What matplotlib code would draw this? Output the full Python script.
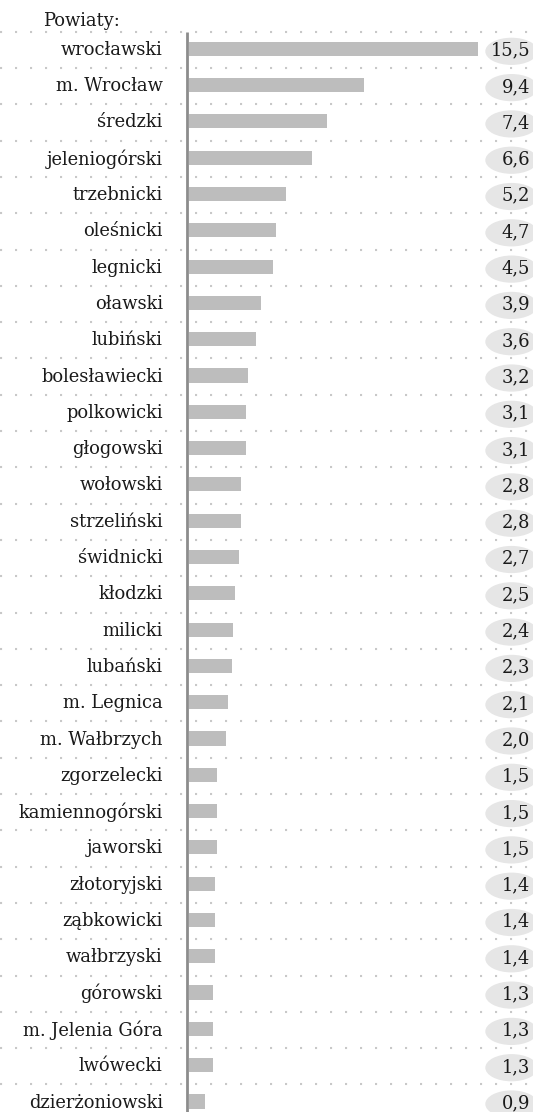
import matplotlib.pyplot as plt
from matplotlib.patches import Ellipse

plt.rcParams['font.family'] = ['DejaVu Serif']

# dane
powiaty = ['wrocławski', 'm. Wrocław', 'średzki', 'jeleniogórski', 'trzebnicki',
           'oleśnicki', 'legnicki', 'oławski', 'lubiński', 'bolesławiecki',
           'polkowicki', 'głogowski', 'wołowski', 'strzeliński', 'świdnicki',
           'kłodzki', 'milicki', 'lubański', 'm. Legnica', 'm. Wałbrzych',
           'zgorzelecki', 'kamiennogórski', 'jaworski', 'złotoryjski', 'ząbkowicki',
           'wałbrzyski', 'górowski', 'm. Jelenia Góra', 'lwówecki', 'dzierżoniowski']
wartosci = [15.5, 9.4, 7.4, 6.6, 5.2, 4.7, 4.5, 3.9, 3.6, 3.2,
            3.1, 3.1, 2.8, 2.8, 2.7, 2.5, 2.4, 2.3, 2.1, 2.0,
            1.5, 1.5, 1.5, 1.4, 1.4, 1.4, 1.3, 1.3, 1.3, 0.9]
naglowek = 'Powiaty:'

fig = plt.figure(figsize=(5.33, 11.12), dpi=100)
ax = fig.add_axes([0, 0, 1, 1])
ax.set_xlim(-10, 18.5)
ax.set_ylim(29.29, -1.344)
ax.axis('off')

n = len(powiaty)
y = list(range(n))

# kropkowane linie między wierszami
for i in range(n):
    ax.axhline(i - 0.47, color='#c8c8c8', lw=1.5, linestyle=(0, (1, 6.2)), zorder=1)

ax.barh(y, wartosci, height=0.39, color='#bdbdbd', left=0.08, zorder=2)
ax.plot([0, 0], [-0.45, 29.3], color='#8c8c8c', lw=2, zorder=3, solid_capstyle='butt')

for i, (nazwa, v) in enumerate(zip(powiaty, wartosci)):
    ax.text(-1.3, i + 0.03, nazwa, ha='right', va='center', fontsize=12.9, color='#1a1a1a')
    ax.add_patch(Ellipse((17.35, i + 0.07), 2.8, 0.75, color='#e6e6e6', lw=0, zorder=2))
    ax.text(18.35, i + 0.05, f'{v:.1f}'.replace('.', ','), ha='right', va='center',
            fontsize=12.9, color='#1a1a1a', zorder=4)

fig.text(43 / 533, 1 - 26.5 / 1112, naglowek, ha='left', va='baseline',
         fontsize=12.9, color='#1a1a1a')

fig.savefig('out.png', dpi=100)
